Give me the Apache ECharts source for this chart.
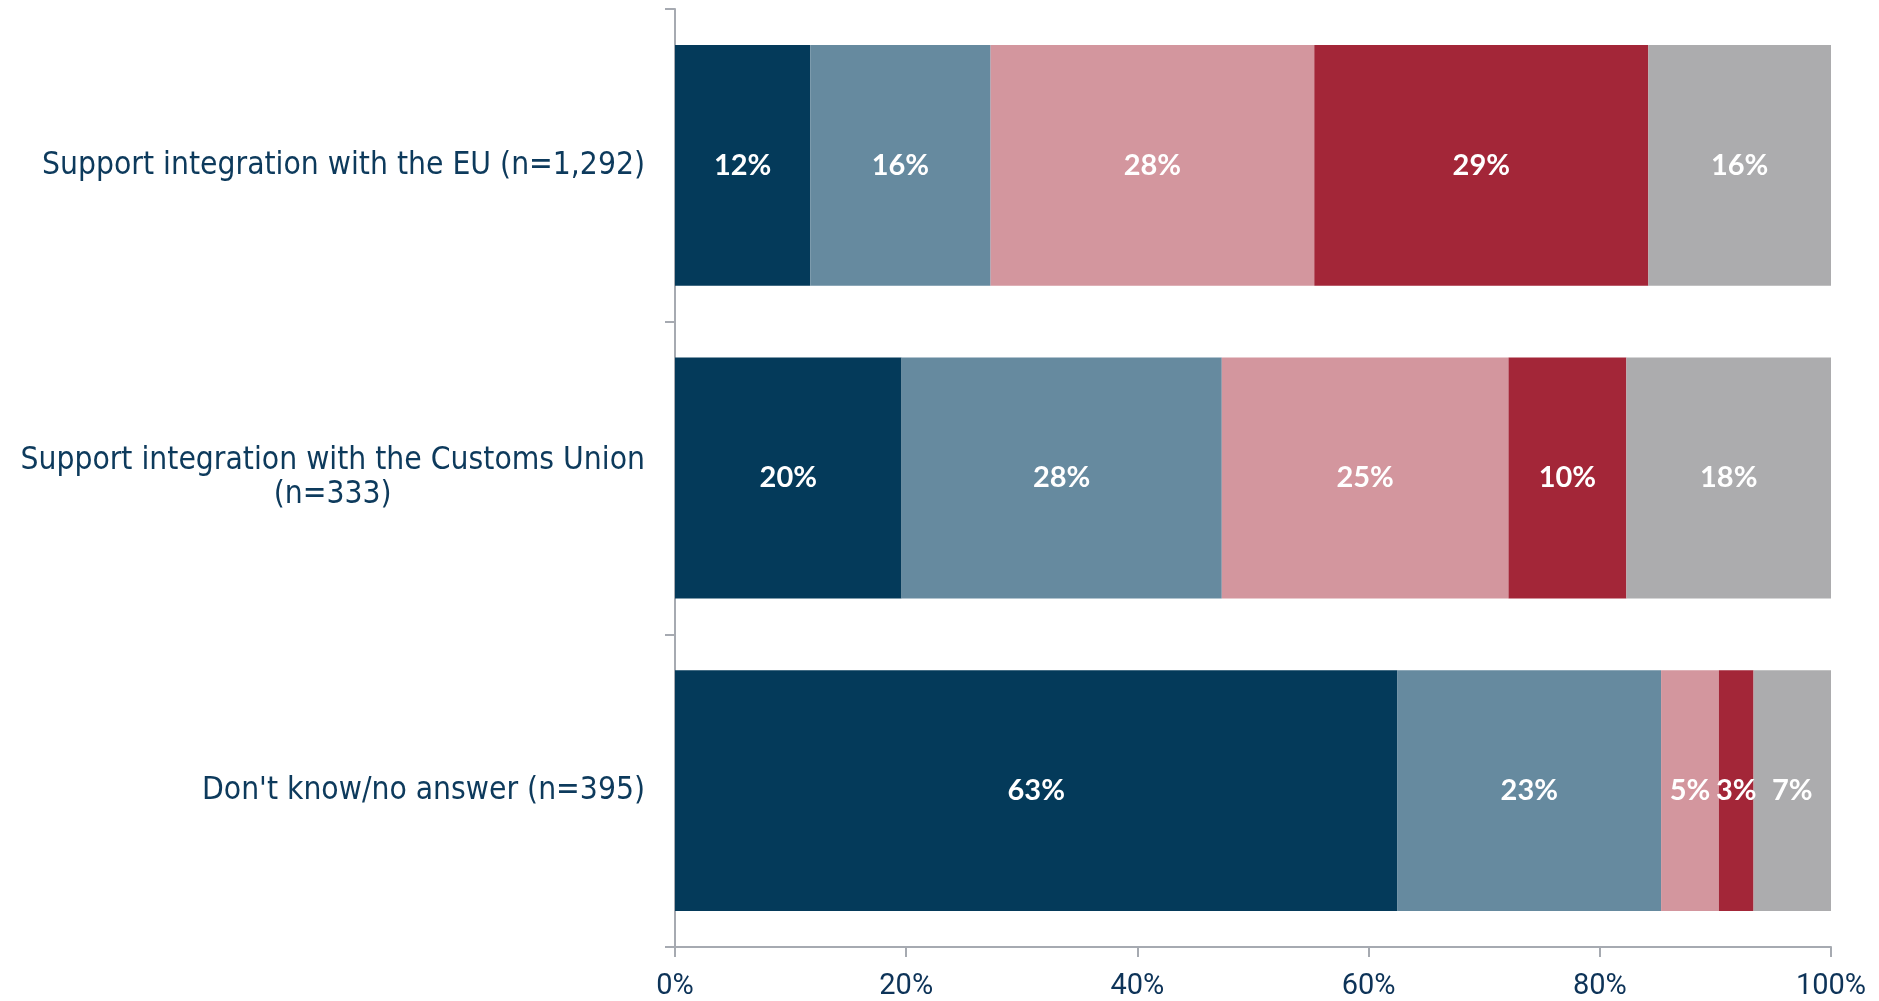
<!DOCTYPE html>
<html>
<head>
<meta charset="utf-8">
<script src="https://cdn.jsdelivr.net/npm/echarts@6/dist/echarts.min.js"></script>
<style>
  html, body { margin: 0; padding: 0; background: #ffffff; }
  #chart { width: 1879px; height: 1001px; }
</style>
</head>
<body>
<div id="chart"></div>
<script>
// Categories (top to bottom)
var categories = [
  'Support integration with the EU (n=1,292)',
  'Support integration with the Customs Union\n(n=333)',
  "Don't know/no answer (n=395)"
];
// Series values (% of respondents), per category in the order above
var seriesNames = ['Response 1', 'Response 2', 'Response 3', 'Response 4', 'Response 5'];
var response1 = [11.7, 19.6, 62.5];
var response2 = [15.6, 27.7, 22.8];
var response3 = [28.0, 24.8, 5.0];
var response4 = [28.9, 10.2, 3.0];
var response5 = [15.8, 17.7, 6.7];
var seriesColors = ['#043a5a', '#668a9f', '#d3969e', '#a32638', '#acacae'];
// Tick labels
var xTickValues = [0, 20, 40, 60, 80, 100];

var allValues = [response1, response2, response3, response4, response5];

var chart = echarts.init(document.getElementById('chart'), null, { renderer: 'canvas' });

var series = allValues.map(function (vals, i) {
  return {
    name: seriesNames[i],
    type: 'bar',
    stack: 'total',
    barCategoryGap: '23%',
    data: vals,
    itemStyle: { color: seriesColors[i] },
    label: {
      show: true,
      position: 'inside',
      color: '#ffffff',
      fontFamily: 'Lato',
      fontWeight: 'bold',
      fontSize: 29,
      formatter: function (p) { return Math.round(p.value) + '%'; }
    },
    emphasis: { disabled: true }
  };
});

var option = {
  animation: false,
  backgroundColor: '#ffffff',
  grid: { left: 675, right: 48, top: 9, bottom: 54, containLabel: false },
  xAxis: {
    type: 'value',
    min: 0,
    max: 100,
    interval: 20,
    axisLine: { show: true, lineStyle: { color: '#a6aab1', width: 2 } },
    axisTick: { show: true, length: 10, lineStyle: { color: '#a6aab1', width: 2 } },
    splitLine: { show: false },
    axisLabel: {
      margin: 25,
      color: '#0d3358',
      fontFamily: 'Roboto',
      fontSize: 29,
      formatter: function (v) { return xTickValues.indexOf(v) >= 0 ? v + '%' : ''; }
    }
  },
  yAxis: {
    type: 'category',
    inverse: true,
    data: categories,
    axisLine: { show: true, lineStyle: { color: '#a6aab1', width: 2 } },
    axisTick: { show: true, length: 10, alignWithLabel: false, lineStyle: { color: '#a6aab1', width: 2 } },
    axisLabel: {
      margin: 30,
      align: 'right',
      color: '#0d3a5c',
      fontFamily: 'DejaVu Sans Condensed',
      fontSize: 31.5,
      lineHeight: 34,
      formatter: function (v) {
        return v.split('\n').map(function (s) { return '{c|' + s + '}'; }).join('\n');
      },
      rich: {
        c: {
          align: 'center',
          color: '#0d3a5c',
          fontFamily: 'DejaVu Sans Condensed',
          fontSize: 31.5,
          lineHeight: 34
        }
      }
    }
  },
  series: series
};

chart.setOption(option);
</script>
</body>
</html>
